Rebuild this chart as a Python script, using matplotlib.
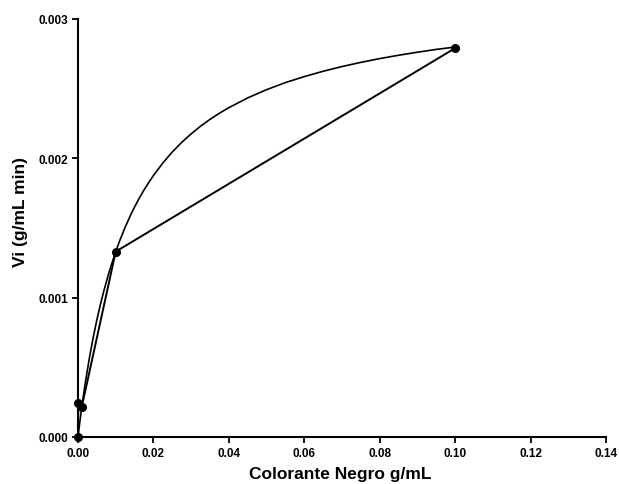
import matplotlib
matplotlib.use('Agg')
import matplotlib.pyplot as plt

plt.rcParams['font.family'] = ['Liberation Sans', 'DejaVu Sans']
plt.rcParams['font.weight'] = 'bold'

# measured points
conc = [0.0, 0.0001, 0.001, 0.01, 0.1]
vi = [0.0, 0.000247, 0.000215, 0.00133, 0.00279]

# fitted curve
curve_x = [0.0, 0.0005, 0.001, 0.0015, 0.002, 0.003, 0.004, 0.005, 0.006, 0.007, 0.008,
           0.009, 0.010, 0.011, 0.0125, 0.014, 0.015, 0.0165, 0.0175, 0.019, 0.02,
           0.0225, 0.025, 0.0275, 0.03, 0.0325, 0.035, 0.0375, 0.04, 0.045, 0.05,
           0.055, 0.06, 0.065, 0.07, 0.075, 0.08, 0.085, 0.09, 0.095, 0.10]
curve_y = [0.0, 0.000110, 0.000213, 0.000309, 0.000399, 0.000563, 0.000709, 0.000840,
           0.000957, 0.001063, 0.00116, 0.001247, 0.00133, 0.001404, 0.001505, 0.001595,
           0.00165, 0.001726, 0.001772, 0.001836, 0.001876, 0.001966, 0.002045,
           0.002114, 0.002175, 0.002230, 0.002279, 0.002323, 0.002363, 0.002433,
           0.002492, 0.002543, 0.002586, 0.002624, 0.002658, 0.002688, 0.002715,
           0.002739, 0.002761, 0.002781, 0.002798]

xticks = [0.00, 0.02, 0.04, 0.06, 0.08, 0.10, 0.12, 0.14]
yticks = [0.000, 0.001, 0.002, 0.003]

fig = plt.figure(figsize=(6.19, 4.85), dpi=100)
ax = fig.add_axes([0.126, 0.097, 0.853, 0.862])

ax.plot(curve_x, curve_y, color='black', linewidth=1.2, clip_on=False)
ax.plot(conc, vi, color='black', linewidth=1.4, marker='o', markersize=5.5, clip_on=False, zorder=3)

ax.set_xlim(0, 0.14)
ax.set_ylim(0, 0.003)
ax.set_xticks(xticks)
ax.set_xticklabels(['%.2f' % t for t in xticks])
ax.set_yticks(yticks)
ax.set_yticklabels(['%.3f' % t for t in yticks])

for s in ['top', 'right']:
    ax.spines[s].set_visible(False)
for s in ['left', 'bottom']:
    ax.spines[s].set_linewidth(1.5)

ax.tick_params(direction='out', length=4, width=1.3, labelsize=8.5, pad=3)
for lab in ax.get_xticklabels() + ax.get_yticklabels():
    lab.set_fontweight('bold')

ax.set_xlabel('Colorante Negro g/mL', fontsize=12.5, fontweight='bold')
ax.set_ylabel('Vi (g/mL min)', fontsize=12.5, fontweight='bold')
ax.xaxis.set_label_coords(0.496, -0.07)
ax.yaxis.set_label_coords(-0.095, 0.54)

fig.savefig('out.png', dpi=100)
